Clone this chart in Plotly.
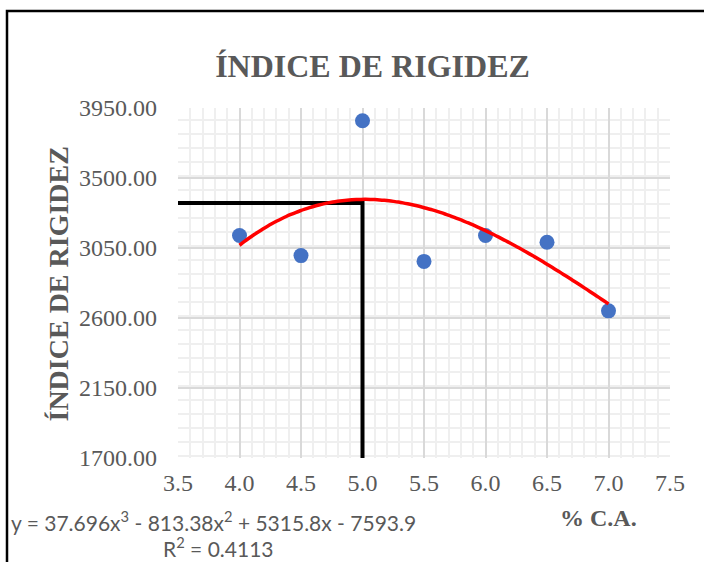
import numpy as np
import plotly.graph_objects as go

# contenido de cemento asfáltico (%) vs índice de rigidez
pct_ca = [4.0, 4.5, 5.0, 5.5, 6.0, 6.5, 7.0]
rigidez = [3130, 3001, 3868, 2964, 3130, 3087, 2646]

# línea de tendencia polinómica (coeficientes del rótulo)
trend_coef = [37.696, -813.38, 5315.8, -7593.9]
trend_label = "y = 37.696x<sup>3</sup> - 813.38x<sup>2</sup> + 5315.8x - 7593.9"
r2_label = "R<sup>2</sup> = 0.4113"

# lectura del óptimo
opt_x = 5.0
opt_y = 3340

x_ticks = [3.5, 4.0, 4.5, 5.0, 5.5, 6.0, 6.5, 7.0, 7.5]
y_ticks = [1700, 2150, 2600, 3050, 3500, 3950]

GRAY = "#595959"
SERIF = "Liberation Serif, Times New Roman, serif"
SANS = "Lato, Open Sans, sans-serif"

# page px -> paper coords (plot area: l=178, t=108, 492 x 350)
def px(x):
    return (x - 178) / 492


def py(y):
    return (458 - y) / 350


trend_x = np.linspace(min(pct_ca), max(pct_ca), 80)
trend_y = np.polyval(trend_coef, trend_x)

fig = go.Figure()
fig.add_trace(go.Scatter(
    x=pct_ca, y=rigidez, mode="markers",
    marker=dict(size=15, color="#4472C4"),
))
fig.add_trace(go.Scatter(
    x=[x_ticks[0], opt_x, opt_x], y=[opt_y, opt_y, y_ticks[0]],
    mode="lines", line=dict(color="black", width=4),
))
fig.add_trace(go.Scatter(
    x=trend_x, y=trend_y, mode="lines",
    line=dict(color="#FF0000", width=3.5, shape="spline"),
))

fig.update_layout(
    width=704, height=562,
    margin=dict(l=178, r=34, t=108, b=104),
    paper_bgcolor="white", plot_bgcolor="white",
    showlegend=False,
    title=dict(
        text="<b>ÍNDICE DE RIGIDEZ</b>", x=372.5 / 704, xanchor="center",
        y=1 - 66 / 562, yanchor="middle",
        font=dict(family=SERIF, size=32, color=GRAY),
    ),
    shapes=[dict(
        type="rect", xref="paper", yref="paper",
        x0=px(7), x1=px(780), y0=py(640), y1=py(11),
        line=dict(color="black", width=2.5), layer="below",
    )],
    annotations=[
        dict(text="<b>ÍNDICE DE RIGIDEZ</b>", textangle=-90,
             xref="paper", yref="paper", x=px(58), y=py(284.5),
             xanchor="center", yanchor="middle",
             showarrow=False, font=dict(family=SERIF, size=28, color=GRAY)),
        dict(text="<b>% C.A.</b>", xref="paper", yref="paper",
             x=px(598), y=py(518), xanchor="center", yanchor="middle",
             showarrow=False, font=dict(family=SERIF, size=24, color=GRAY)),
        dict(text=trend_label, xref="paper", yref="paper",
             x=px(213), y=py(521), xanchor="center", yanchor="middle",
             showarrow=False, font=dict(family=SANS, size=21, color=GRAY)),
        dict(text=r2_label, xref="paper", yref="paper",
             x=px(218), y=py(547), xanchor="center", yanchor="middle",
             showarrow=False, font=dict(family=SANS, size=21, color=GRAY)),
    ],
)
fig.update_xaxes(
    range=[x_ticks[0], x_ticks[-1]], tickvals=x_ticks, tickformat=".1f",
    showgrid=True, gridcolor="#D9D9D9", gridwidth=1.5, zeroline=False,
    showline=False, ticks="", ticklabelstandoff=8,
    tickfont=dict(family=SERIF, size=24, color=GRAY),
    minor=dict(dtick=0.1, showgrid=True, gridcolor="#EFEFEF", gridwidth=1.5),
)
fig.update_yaxes(
    range=[y_ticks[0], y_ticks[-1]], tickvals=y_ticks, tickformat=".2f",
    showgrid=True, gridcolor="#D9D9D9", gridwidth=1.5, zeroline=False,
    showline=False, ticks="", ticklabelstandoff=20,
    tickfont=dict(family=SERIF, size=24, color=GRAY),
    minor=dict(dtick=90, showgrid=True, gridcolor="#EFEFEF", gridwidth=1.5),
)

# drop the default body margin so the 704x562 figure fills the window
fig.write_html(
    "out.html",
    config={"displayModeBar": False},
    post_script="document.body.style.margin='0';document.body.style.overflow='hidden';",
)
